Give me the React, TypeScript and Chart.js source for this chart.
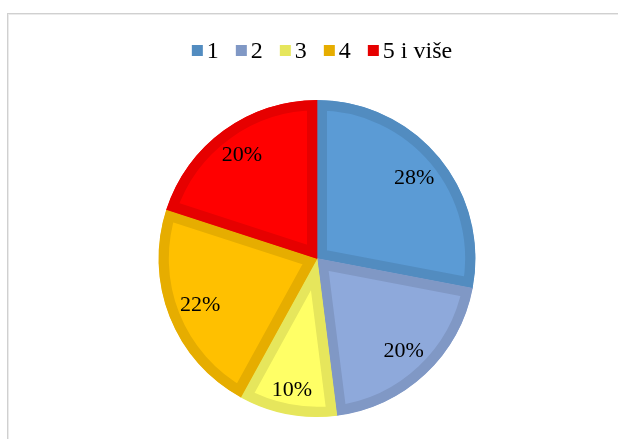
import React, { useEffect, useRef } from 'react';
import { Chart, registerables } from 'chart.js';

Chart.register(...registerables);

const categories = ['1', '2', '3', '4', '5 i više'];
const shares = [28, 20, 10, 22, 20];
const fillColors = ['#5B9BD5', '#8EA9DB', '#FFFF66', '#FFC000', '#FF0000'];
const borderColors = ['#528CC0', '#8098C5', '#E6E65C', '#E6AD00', '#E60000'];

const FONT = "'Liberation Serif', 'Times New Roman', serif";

const sliceLabels = {
  id: 'sliceLabels',
  afterDatasetsDraw(chart: any) {
    const ctx = chart.ctx;
    const meta = chart.getDatasetMeta(0);
    ctx.save();
    ctx.font = `22px ${FONT}`;
    ctx.fillStyle = '#000000';
    ctx.textAlign = 'center';
    ctx.textBaseline = 'middle';
    meta.data.forEach((arc: any, i: number) => {
      const { x, y, startAngle, endAngle, outerRadius } = arc.getProps(
        ['x', 'y', 'startAngle', 'endAngle', 'outerRadius'],
        true
      );
      const mid = (startAngle + endAngle) / 2;
      const text = `${shares[i]}%`;
      const w = ctx.measureText(text).width;
      const h = 22;
      const c = Math.cos(mid);
      const s = Math.sin(mid);
      const ext = (Math.abs(c) * w) / 2 + (Math.abs(s) * h) / 2;
      const d = outerRadius - 10 - ext;
      ctx.fillText(text, x + c * d, y + s * d);
    });
    ctx.restore();
  },
};

const topLegend = {
  id: 'topLegend',
  afterDraw(chart: any) {
    const ctx = chart.ctx;
    ctx.save();
    ctx.font = `24px ${FONT}`;
    ctx.textAlign = 'left';
    ctx.textBaseline = 'alphabetic';
    const box = 11;
    const gap = 4;
    const itemGap = 17;
    const widths = categories.map((t) => ctx.measureText(t).width);
    const total =
      widths.reduce((a, b) => a + b, 0) +
      categories.length * (box + gap) +
      itemGap * (categories.length - 1);
    const cx = (chart.chartArea.left + chart.chartArea.right) / 2 + 5;
    let x = cx - total / 2;
    const boxTop = 45;
    const baseline = 58;
    categories.forEach((t, i) => {
      ctx.fillStyle = borderColors[i];
      ctx.fillRect(x, boxTop, box, box);
      ctx.fillStyle = '#000000';
      ctx.fillText(t, x + box + gap, baseline);
      x += box + gap + widths[i] + itemGap;
    });
    ctx.restore();
  },
};

export default function App() {
  const canvasRef = useRef<HTMLCanvasElement | null>(null);

  useEffect(() => {
    if (!canvasRef.current) return;
    const chart = new Chart(canvasRef.current, {
      type: 'pie',
      data: {
        labels: categories,
        datasets: [
          {
            data: shares,
            backgroundColor: fillColors,
            borderColor: borderColors,
            borderWidth: 10,
            borderAlign: 'inner',
            hoverOffset: 0,
            hoverBorderWidth: 10,
          },
        ],
      },
      options: {
        animation: false,
        responsive: false,
        devicePixelRatio: 1,
        layout: { padding: { top: 100, bottom: 22, left: 16, right: 0 } },
        plugins: {
          legend: { display: false },
          tooltip: { enabled: false },
        },
      },
      plugins: [sliceLabels, topLegend],
    } as any);
    return () => chart.destroy();
  }, []);

  return (
    <div
      style={{
        position: 'absolute',
        left: 0,
        top: 0,
        width: 618,
        height: 439,
        overflow: 'hidden',
        background: '#ffffff',
      }}
    >
      <div
        style={{
          position: 'absolute',
          left: 7,
          top: 13,
          width: 800,
          height: 600,
          borderTop: '1px solid #d0d0d0',
          borderLeft: '1px solid #d0d0d0',
          boxShadow: 'inset 1px 1px 0 #ebebeb',
        }}
      />
      <canvas
        ref={canvasRef}
        width={618}
        height={439}
        style={{ position: 'absolute', left: 0, top: 0, width: 618, height: 439 }}
      />
    </div>
  );
}
